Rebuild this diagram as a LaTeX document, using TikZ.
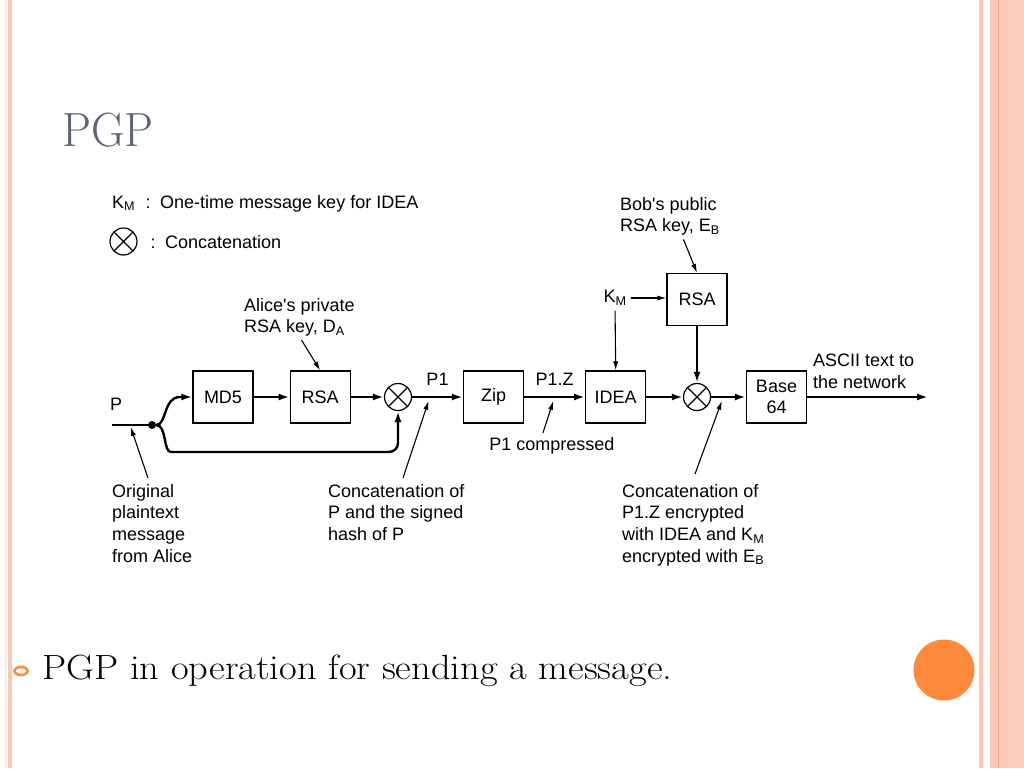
\documentclass[tikz,border=0pt]{standalone}
\usepackage{fontspec}
\newfontfamily\helv{Liberation Sans}
\usepackage{xcolor}
\usetikzlibrary{positioning,calc}
\usetikzlibrary{arrows,arrows.meta}
\tikzset{edge/.style = {->,> = {Latex[length=11pt,width=7pt]}}}
\newcommand\diagfont{\helv\fontsize{18}{21.6}\selectfont}
\definecolor{slidepink}{HTML}{FCC8B6}
\definecolor{slidefaint}{HTML}{FBE3D6}
\definecolor{slideline}{HTML}{EBA587}
\definecolor{slideorange}{HTML}{FD8A3B}
\definecolor{titlegray}{HTML}{5A6377}

\begin{document}
\begin{tikzpicture}[x=1pt,y=-1pt,
  every node/.style={font=\diagfont, inner sep=0pt},
  box/.style={draw, line width=1.2pt, minimum width=60pt, minimum height=52pt, align=center},
  concat/.style={circle, draw, line width=1.2pt, minimum size=27pt,
    path picture={\draw[line width=1.1pt] (path picture bounding box.north west) -- (path picture bounding box.south east)
      (path picture bounding box.north east) -- (path picture bounding box.south west);}},
  flow/.style={edge, line width=2.4pt},
  ptr/.style={edge, line width=1.1pt, > = {Latex[length=9pt,width=5pt]}},
  txt/.style={align=left, anchor=north west}]
  \useasboundingbox (0,0) rectangle (1024,768);
  \fill[white] (0,0) rectangle (1024,768);

  % slide frame
  \fill[slidefaint] (5,0) rectangle (6.3,768);
  \fill[slidepink] (8,0) rectangle (12,768);
  \fill[slidepink] (979.3,0) rectangle (983.3,768);
  \fill[slidepink] (990,0) rectangle (1024,768);
  \fill[slidepink!85!white] (1008.3,0) rectangle (1024,768);
  \draw[slideline, line width=0.9pt] (998.3,0) -- (998.3,768);
  \fill[slideorange] (944,670) circle (30.5);

  \node[anchor=base west, font=\fontsize{48}{58}\selectfont, text=titlegray] (title) at (62,146) {\scalebox{0.96}[1]{PGP}};
  \draw[slideorange, line width=2.6pt] (21,671) ellipse (6.5 and 4);
  \node[anchor=base west, font=\fontsize{35}{42}\selectfont] (caption) at (42,679) {\scalebox{1.1}[1]{PGP in operation for sending a message.}};

  % legend
  \node[anchor=base west] (kmkey) at (112,208) {K\textsubscript{M}\hspace{10.5pt}:\hspace{9.5pt}One-time message key for IDEA};
  \node[concat] (catsym) at (123.5,241.5) {};
  \node[anchor=base west] (catkey) at (150.5,248) {:\hspace{9.5pt}Concatenation};

  % blocks
  \node[box] (md5) at (223,397) {MD5};
  \node[box, right=36pt of md5] (rsa1) {RSA};
  \node[concat] (c1) at (398,397) {};
  \node[box] (zip) at (493.5,397) {Zip};
  \node[box, right=61pt of zip] (idea) {IDEA};
  \node[concat] (c2) at (697,397) {};
  \node[box] (b64) at (776.5,397) {Base\\64};
  \node[box] (rsa2) at (697,299.5) {RSA};
  \node (km) at (615,298) {K\textsubscript{M}};

  \node[circle, fill, minimum size=8pt] (split) at (152,425) {};
  \coordinate (pin) at (112,425);
  \coordinate (low) at (180,452);
  \coordinate (out) at (928,397);
  \node[anchor=base west] (plabel) at (110,410) {P};

  \draw[line width=2.4pt] (pin) -- (split);
  \draw[flow] (split) .. controls (167,425) and (163,397) .. (180,397) -- (md5.west);
  \draw[flow, rounded corners=9pt] (split) .. controls (167,425) and (163,452) .. (low) -- (low -| c1.south) -- (c1.south);
  \draw[flow] (md5) -- (rsa1);
  \draw[flow] (rsa1) -- (c1);
  \draw[flow] (c1) -- node[above=10pt] {P1} (zip);
  \draw[flow] (zip) -- node[above=10pt] {P1.Z} (idea);
  \draw[flow] (idea) -- (c2);
  \draw[flow] (c2) -- (b64);
  \draw[flow] (b64) -- (out);
  \draw[flow] (rsa2) -- (c2);
  \draw[ptr, shorten <=4pt] (km.east) -- (km.east -| rsa2.west);
  \draw[ptr, shorten <=5pt] (km.south) -- (idea.north);

  % notes
  \node[txt] (alicekey) at (244,298) {Alice\textquotesingle s private\\RSA key, D\textsubscript{A}};
  \node[txt] (bobkey) at (620,197) {Bob\textquotesingle s public\\RSA key, E\textsubscript{B}};
  \node[txt] (ascii) at (813,354) {ASCII text to\\the network};
  \node[txt] (orig) at (112,484) {Original\\plaintext\\message\\from Alice};
  \node[txt] (cat1) at (328,484) {Concatenation of\\P and the signed\\hash of P};
  \node[txt] (cat2) at (622,484) {Concatenation of\\P1.Z encrypted\\with IDEA and K\textsubscript{M}\\encrypted with E\textsubscript{B}};
  \node[anchor=base] (p1z) at (552,450) {P1 compressed};

  \draw[ptr, shorten <=4pt] (alicekey.south) -- (rsa1.north);
  \draw[ptr, shorten <=4pt] ([xshift=12pt]bobkey.south) -- (rsa2.north);
  \draw[ptr, shorten >=2pt] ([xshift=36pt,yshift=6pt]orig.north west) -- ($(pin)!0.45!(split)$);
  \draw[ptr, shorten >=4pt] ([xshift=75pt,yshift=6pt]cat1.north west) -- ($(c1.east)!0.35!(zip.west)$);
  \draw[ptr, shorten >=4pt] ([xshift=-9pt,yshift=4pt]p1z.north) -- ($(zip.east)!0.5!(idea.west)$);
  \draw[ptr, shorten >=4pt] ([xshift=73pt,yshift=10pt]cat2.north west) -- ($(c2.east)!0.35!(b64.west)$);
\end{tikzpicture}
\end{document}
